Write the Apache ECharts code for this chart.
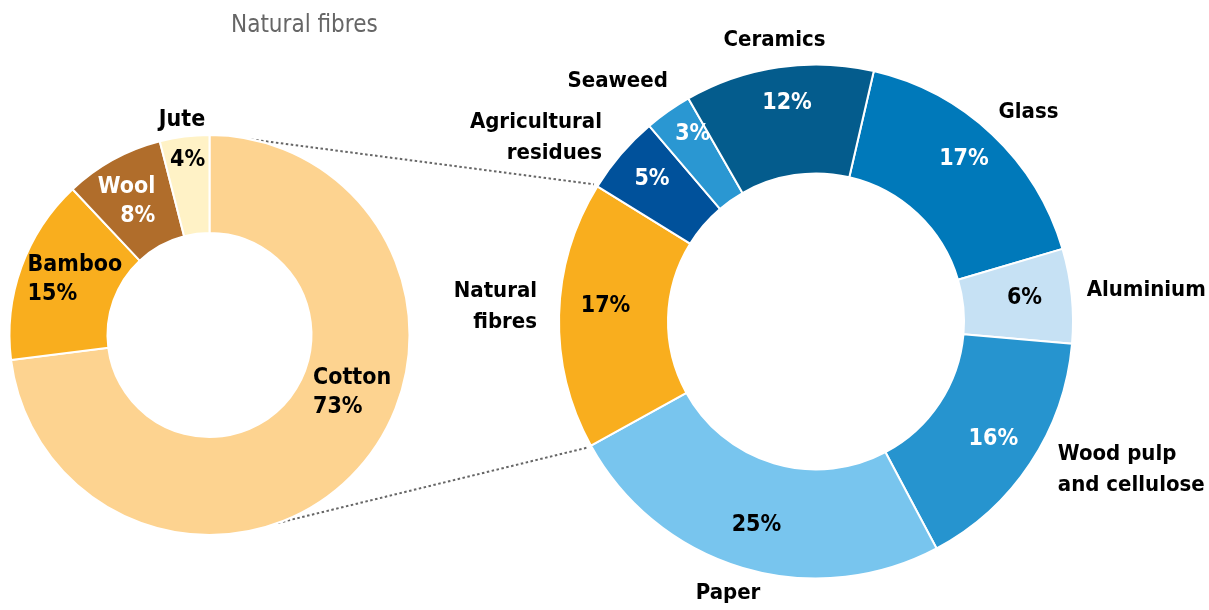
<!DOCTYPE html>
<html>
<head>
<meta charset="utf-8">
<script src="https://cdn.jsdelivr.net/npm/echarts@6/dist/echarts.min.js"></script>
<style>
  html, body { margin: 0; padding: 0; background: #fff; }
  #chart { width: 1209px; height: 610px; }
</style>
</head>
<body>
<div id="chart"></div>
<script>
// natural fibres breakdown (left donut)
const fibreNames = ['Cotton', 'Bamboo', 'Wool', 'Jute']
const fibreValues = [73, 15, 8, 4]
const fibreColors = ['#FDD390', '#F9AE1E', '#B06D2B', '#FFF2C6']
const fibreText = ['#000', '#000', '#fff', '#000']

// all materials (right donut)
const matNames = ['Glass', 'Aluminium', 'Wood pulp\nand cellulose', 'Paper', 'Natural\nfibres', 'Agricultural\nresidues', 'Seaweed', 'Ceramics']
const matValues = [17, 6, 16, 25, 17, 5, 3, 12]
const matColors = ['#0079BA', '#C6E1F4', '#2694CF', '#78C5EE', '#F9AE1E', '#00519B', '#2A97D2', '#045C8D']
const matText = ['#fff', '#000', '#fff', '#000', '#000', '#fff', '#fff', '#fff']

const FONT = "'Liberation Sans Narrow', 'DejaVu Sans Condensed', 'Roboto Condensed', sans-serif"
const FS = 23

// donut geometry
const L = { cx: 209.5, cy: 335, r0: 102, r: 200, start: 90 }
const R = { cx: 816, cy: 321.5, r0: 148, r: 257, start: 77 }

// label tweaks: [dx, dy, align] from the default inside position
const fibreShift = [[-12, -44, 'left'], [-37, -3, 'left'], [20, 1, 'right'], [15, -42, 'right']]
const matShift = [[7, -13], [4, -3], [6, 4], [-1, 7], [-5, -10], [-8, -9], [-5, -19], [1, -15]]
// outer name labels: [gap beyond ring, align, dx, dy]
const matOuter = [[31, 'center', 15, 0], [15, 'left', 0, -4], [33, 'left', 0, -12], [27, 'center', -7, 0],
  [22, 'right', 0, -8], [25, 'right', 0, 0], [37, 'right', 21, 0], [27.5, 'center', 0, 0]]

// angle helpers (degrees clockwise from 12 o'clock)
function edges(values, startEc) {
  const total = values.reduce((a, b) => a + b, 0)
  let a = 90 - startEc
  const out = [a]
  values.forEach(v => { a += v / total * 360; out.push(a) })
  return out
}
function pt(g, deg, dist) {
  const t = deg * Math.PI / 180
  return [g.cx + dist * Math.sin(t), g.cy - dist * Math.cos(t)]
}
const matEdges = edges(matValues, R.start)
const matMid = matValues.map((v, i) => (matEdges[i] + matEdges[i + 1]) / 2)

const chart = echarts.init(document.getElementById('chart'))

const natIdx = 4
const zoomTop = pt(R, matEdges[natIdx + 1], R.r + 4)
const zoomBot = pt(R, matEdges[natIdx], R.r + 4)
const fromTop = pt(L, 12, L.r)
const fromBot = pt(L, 160, L.r)

const dotted = { stroke: '#666', lineWidth: 2, lineDash: [2.5, 2.5] }

chart.setOption({
  animation: false,
  title: {
    text: 'Natural fibres',
    left: 226,
    top: 9,
    textStyle: { fontFamily: FONT, fontSize: 24, fontWeight: 'normal', color: '#666' }
  },
  graphic: [
    { type: 'line', shape: { x1: fromTop[0], y1: fromTop[1], x2: zoomTop[0], y2: zoomTop[1] }, style: dotted, z: 0 },
    { type: 'line', shape: { x1: fromBot[0], y1: fromBot[1], x2: zoomBot[0], y2: zoomBot[1] }, style: dotted, z: 0 }
  ],
  series: [
    {
      name: 'fibres',
      type: 'pie',
      center: [L.cx, L.cy],
      radius: [L.r0, L.r],
      startAngle: L.start,
      avoidLabelOverlap: false,
      silent: true,
      itemStyle: { borderColor: '#fff', borderWidth: 2 },
      label: {
        position: 'inside',
        fontFamily: FONT,
        fontSize: FS,
        fontWeight: 'bold',
        lineHeight: 29,
        formatter: p => p.name === 'Jute' ? '{j|Jute}\n{j|' + p.value + '%}' : p.name + '\n' + p.value + '%',
        rich: { j: { fontFamily: FONT, fontSize: FS, fontWeight: 'bold', lineHeight: 40, color: '#000' } }
      },
      labelLayout: p => {
        const s = fibreShift[p.dataIndex]
        const r = p.labelRect
        return { x: r.x + r.width / 2 + s[0], y: r.y + r.height / 2 + s[1], align: s[2], verticalAlign: 'middle' }
      },
      data: fibreNames.map((n, i) => ({
        name: n, value: fibreValues[i],
        itemStyle: { color: fibreColors[i] },
        label: { color: fibreText[i] }
      }))
    },
    {
      name: 'materials',
      type: 'pie',
      center: [R.cx, R.cy],
      radius: [R.r0, R.r],
      startAngle: R.start,
      avoidLabelOverlap: false,
      silent: true,
      itemStyle: { borderColor: '#fff', borderWidth: 2 },
      label: {
        position: 'inside',
        fontFamily: FONT,
        fontSize: FS,
        fontWeight: 'bold',
        formatter: '{c}%'
      },
      labelLayout: p => {
        const s = matShift[p.dataIndex]
        const r = p.labelRect
        return { x: r.x + r.width / 2 + s[0], y: r.y + r.height / 2 + s[1], align: 'center', verticalAlign: 'middle' }
      },
      data: matNames.map((n, i) => ({
        name: n, value: matValues[i],
        itemStyle: { color: matColors[i] },
        label: { color: matText[i] }
      }))
    },
    {
      // same ring, transparent, only to carry the outside name labels
      name: 'materials-names',
      type: 'pie',
      center: [R.cx, R.cy],
      radius: [R.r0, R.r],
      startAngle: R.start,
      avoidLabelOverlap: false,
      silent: true,
      itemStyle: { color: 'rgba(0,0,0,0)', borderWidth: 0 },
      label: {
        position: 'inside',
        fontFamily: FONT,
        fontSize: 22,
        fontWeight: 'bold',
        lineHeight: 31,
        color: '#000',
        formatter: '{b}'
      },
      labelLayout: p => {
        const o = matOuter[p.dataIndex]
        const q = pt(R, matMid[p.dataIndex], R.r + o[0])
        return { x: q[0] + o[2], y: q[1] + o[3], align: o[1], verticalAlign: 'middle' }
      },
      data: matNames.map((n, i) => ({ name: n, value: matValues[i] }))
    }
  ]
})
</script>
</body>
</html>
